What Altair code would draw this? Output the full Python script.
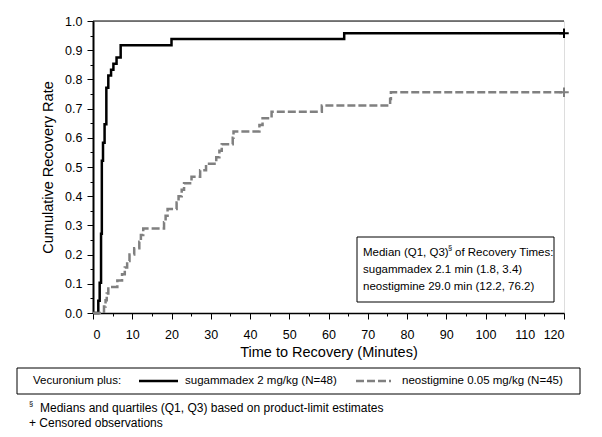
import altair as alt
import pandas as pd

FONT = "Liberation Sans"

# ---- data ----
sug_time = [0, 1.35, 1.7, 2.05, 2.25, 2.55, 2.95, 3.4, 3.9, 4.6, 5.2, 6.0, 7.05, 20.0, 64.0, 120]
sug_rate = [0, 0.042, 0.104, 0.271, 0.521, 0.583, 0.646, 0.771, 0.813, 0.833, 0.854, 0.875, 0.917, 0.938, 0.958, 0.958]

neo_time = [0, 2.8, 3.2, 3.5, 3.9, 6.2, 7.4, 8.1, 8.7, 9.3, 10.5, 11.8, 12.2, 12.8, 18.1, 18.5, 19.0,
            21.3, 21.8, 22.6, 23.2, 25.1, 27.3, 28.8, 31.4, 32.2, 32.8, 35.6, 35.8, 42.4, 43.2, 45.5,
            58.3, 75.7, 75.9, 120]
neo_rate = [0, 0.022, 0.044, 0.067, 0.089, 0.111, 0.133, 0.156, 0.178, 0.200, 0.222, 0.244, 0.267, 0.289,
            0.311, 0.333, 0.356, 0.378, 0.400, 0.422, 0.444, 0.467, 0.489, 0.511, 0.533, 0.556, 0.578,
            0.600, 0.622, 0.644, 0.667, 0.689, 0.711, 0.733, 0.756, 0.756]

censor_time = [120, 120]
censor_rate = [0.958, 0.756]
censor_series = ["sugammadex", "neostigmine"]

series_names = ["sugammadex", "neostigmine"]
series_colors = ["#000000", "#808080"]

x_major = [0, 10, 20, 30, 40, 50, 60, 70, 80, 90, 100, 110, 120]
x_minor = [5, 15, 25, 35, 45, 55, 65, 75, 85, 95, 105, 115]
y_major = [0.0, 0.1, 0.2, 0.3, 0.4, 0.5, 0.6, 0.7, 0.8, 0.9, 1.0]
y_minor = [0.05, 0.15, 0.25, 0.35, 0.45, 0.55, 0.65, 0.75, 0.85, 0.95]
ref_rate = [1.0]

x_title = "Time to Recovery (Minutes)"
y_title = "Cumulative Recovery Rate"
box_line1a = "Median (Q1, Q3)"
box_sup = "§"
box_line1b = "of Recovery Times:"
box_line2 = "sugammadex 2.1 min (1.8, 3.4)"
box_line3 = "neostigmine 29.0 min (12.2, 76.2)"
legend_head = "Vecuronium plus:"
legend_sug = "sugammadex 2 mg/kg (N=48)"
legend_neo = "neostigmine 0.05 mg/kg (N=45)"
foot1 = "Medians and quartiles (Q1, Q3) based on product-limit estimates"
foot2 = "+ Censored observations"

# ---- tables ----
curves = pd.concat([
    pd.DataFrame({"series": "sugammadex", "time": sug_time, "rate": sug_rate, "i": range(len(sug_time))}),
    pd.DataFrame({"series": "neostigmine", "time": neo_time, "rate": neo_rate, "i": range(len(neo_time))}),
])
censor = pd.DataFrame({"series": censor_series, "time": censor_time, "rate": censor_rate})
ref = pd.DataFrame({"rate": ref_rate})
one = pd.DataFrame({"k": [0]})

xscale = alt.Scale(domain=[0, 120], nice=False, zero=False)
yscale = alt.Scale(domain=[0, 1], nice=False)
cscale = alt.Scale(domain=series_names, range=series_colors)
dscale = alt.Scale(domain=series_names, range=[[1, 0], [8, 3]])

common_axis = dict(grid=False, domainColor="black", tickColor="black", labelColor="black",
                   titleColor="black", labelFont=FONT, titleFont=FONT, titleFontWeight="normal",
                   tickWidth=1)

x_axis_major = alt.Axis(values=x_major, tickSize=6, labelFontSize=12.5, titleFontSize=14.5,
                        labelPadding=9, titlePadding=5, domainWidth=1.5, format="d",
                        title=x_title, **common_axis)
y_axis_major = alt.Axis(values=y_major, tickSize=6, labelFontSize=12.5, titleFontSize=14.5,
                        labelPadding=5, titlePadding=9, domainWidth=2, format=".1f",
                        title=y_title, **common_axis)
x_axis_minor = alt.Axis(values=x_minor, tickSize=3, labels=False, domain=False, title=None,
                        orient="bottom", **common_axis)
y_axis_minor = alt.Axis(values=y_minor, tickSize=3, labels=False, domain=False, title=None,
                        orient="left", **common_axis)

lines = alt.Chart(curves).mark_line(interpolate="step-after", strokeWidth=2.5).encode(
    x=alt.X("time:Q", scale=xscale, axis=x_axis_major),
    y=alt.Y("rate:Q", scale=yscale, axis=y_axis_major),
    color=alt.Color("series:N", scale=cscale, legend=None),
    strokeDash=alt.StrokeDash("series:N", scale=dscale, legend=None),
    detail="series:N",
    order="i:Q",
)

plus = alt.Chart(censor).mark_point(shape="M-1,0L1,0M0,-1L0,1", size=90, strokeWidth=2, filled=False,
                                    opacity=1).encode(
    x=alt.X("time:Q", scale=xscale, axis=x_axis_minor),
    y=alt.Y("rate:Q", scale=yscale, axis=y_axis_minor),
    color=alt.Color("series:N", scale=cscale, legend=None),
)

topline = alt.Chart(ref).mark_rule(color="black", strokeWidth=1).encode(
    y=alt.Y("rate:Q", scale=yscale, axis=None)
)


def txt(s, x, y, size=11.5, align="left"):
    return alt.Chart(one).mark_text(text=s, font=FONT, fontSize=size, color="black",
                                    align=align, baseline="middle").encode(
        x=alt.value(x), y=alt.value(y))


def box(x1, x2, y1, y2):
    return alt.Chart(one).mark_rect(fill="white", fillOpacity=0, stroke="black", strokeWidth=1).encode(
        x=alt.value(x1), x2=alt.value(x2), y=alt.value(y1), y2=alt.value(y2))


def seg(x1, x2, y, color, dash):
    return alt.Chart(one).mark_rule(color=color, strokeWidth=2.5, strokeDash=dash).encode(
        x=alt.value(x1), x2=alt.value(x2), y=alt.value(y))


layers = [
    topline, lines, plus,
    # median box
    box(264, 461, 216, 281),
    txt(box_line1a, 270, 232),
    txt(box_sup, 355, 227, size=7.5),
    txt(box_line1b, 362, 232),
    txt(box_line2, 270, 249),
    txt(box_line3, 270, 266),
    # legend box
    box(-76, 487, 347, 373),
    txt(legend_head, -60, 360),
    seg(46, 85, 360, "#000000", [1, 0]),
    txt(legend_sug, 92, 360),
    seg(263, 298, 360, "#808080", [8, 3]),
    txt(legend_neo, 309, 360),
    # footnotes
    txt(box_sup, -64, 383, size=7.5),
    txt(foot1, -53, 387, size=12),
    txt(foot2, -64, 402, size=12),
]

chart = alt.layer(*layers).resolve_axis(x="independent", y="independent").properties(
    width=471, height=292,
    autosize=alt.AutoSizeParams(type="none"),
    padding={"left": 85, "top": 13, "right": 28, "bottom": 116},
).configure_view(stroke=None).configure(font=FONT)

chart.save("out.html", embed_options={"renderer": "svg", "actions": False})
